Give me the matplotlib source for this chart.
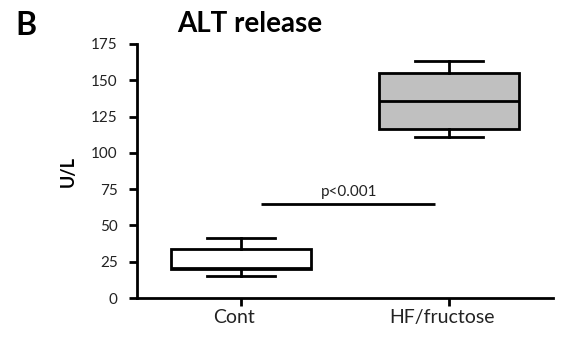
import matplotlib
matplotlib.use("Agg")
import matplotlib.pyplot as plt
import matplotlib.transforms as mtransforms

plt.rcParams['font.family'] = ['Lato', 'DejaVu Sans']

categories = ["Cont", "HF/fructose"]
whisker_low = [15.2, 110.9]
q1 = [19.8, 116.7]
median = [20.9, 135.9]
q3 = [33.8, 155.2]
whisker_high = [41.6, 163.3]
box_colors = ["white", "#c0c0c0"]
yticks = [0, 25, 50, 75, 100, 125, 150, 175]
sig_y = 64.8
sig_label = "p<0.001"

fig = plt.figure(figsize=(5.62, 3.40), dpi=100)
ax = fig.add_axes([0.2438, 0.1235, 0.740, 0.7471])

stats = []
for i, c in enumerate(categories):
    stats.append(dict(label=c, whislo=whisker_low[i], q1=q1[i], med=median[i],
                      q3=q3[i], whishi=whisker_high[i], fliers=[]))

lw = 2.0
bp = ax.bxp(stats, positions=range(len(categories)), widths=0.67, patch_artist=True,
            showfliers=False,
            boxprops=dict(linewidth=lw, edgecolor="black"),
            medianprops=dict(color="black", linewidth=lw),
            whiskerprops=dict(color="black", linewidth=lw),
            capprops=dict(color="black", linewidth=lw),
            capwidths=0.33)
for patch, col in zip(bp['boxes'], box_colors):
    patch.set_facecolor(col)

ax.set_xlim(-0.5, 1.5)
ax.set_ylim(0, 175)
ax.set_yticks(yticks)
ax.set_yticklabels([str(t) for t in yticks], fontsize=11, color="#222222")
ax.set_xticks(range(len(categories)))
ax.set_xticklabels([])

# category labels, slightly left of the tick as in the reference
base = ax.get_xaxis_transform()
offset = mtransforms.ScaledTranslation(-7 / 100, -11 / 100, fig.dpi_scale_trans)
for i, c in enumerate(categories):
    ax.text(i, 0, c, transform=base + offset, ha='center', va='top',
            fontsize=14, color="#222222")

for s in ['top', 'right']:
    ax.spines[s].set_visible(False)
for s in ['left', 'bottom']:
    ax.spines[s].set_linewidth(lw)
ax.tick_params(axis='both', direction='out', width=lw, length=6)
ax.tick_params(axis='y', pad=8)

ax.set_ylabel("U/L", fontsize=13, fontweight='bold', labelpad=10)

ax.plot([0.096, 0.934], [sig_y, sig_y], color="black", linewidth=lw, solid_capstyle='butt')
ax.text(0.52, sig_y + 5.5, sig_label, ha='center', va='baseline', fontsize=11, color="#222222")

fig.text(250 / 562, 1 - 32 / 340, "ALT release", ha='center', va='baseline',
         fontsize=20, fontweight='bold')
fig.text(26 / 562, 1 - 35 / 340, "B", ha='center', va='baseline',
         fontsize=23, fontweight='bold')

fig.savefig("out.png", dpi=100)
